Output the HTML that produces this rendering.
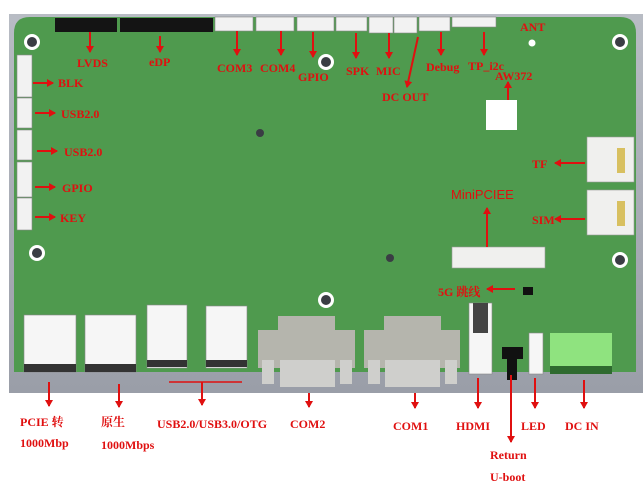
<!DOCTYPE html>
<html><head><meta charset="utf-8"><style>
html,body{margin:0;padding:0;background:#fff;width:644px;height:491px;overflow:hidden}
svg{display:block}
.t{font-family:"Liberation Serif","Noto Serif CJK SC",serif;font-weight:bold;fill:#e01010;font-size:12px}
</style></head><body>
<svg width="644" height="491" viewBox="0 0 644 491" xmlns="http://www.w3.org/2000/svg">
<defs>
<marker id="a" markerWidth="8" markerHeight="8" refX="6" refY="4" orient="auto" markerUnits="userSpaceOnUse"><path d="M0,0 L7,4 L0,8 z" fill="#e01010"/></marker>
<linearGradient id="gf" x1="0" y1="0" x2="0" y2="1"><stop offset="0" stop-color="#b8bcc4"/><stop offset="1" stop-color="#9a9ea8"/></linearGradient>
</defs>
<!-- frame -->
<rect x="9" y="14" width="634" height="379" fill="url(#gf)"/>
<path d="M30,17 H620 Q636,17 636,33 V372 H14 V33 Q14,17 30,17 Z" fill="#4f9a4e"/>
<!-- top headers -->
<rect x="55" y="18" width="62" height="14" fill="#141414"/>
<rect x="120" y="18" width="93" height="14" fill="#141414"/>
<g fill="#f2f2f2" stroke="#888" stroke-width="0.6">
<rect x="215" y="17" width="38" height="14"/><rect x="256" y="17" width="38" height="14"/>
<rect x="297" y="17" width="37" height="14"/><rect x="336" y="17" width="31" height="14"/>
<rect x="369" y="17" width="24" height="16"/><rect x="394" y="17" width="23" height="16"/>
<rect x="419" y="17" width="31" height="14"/><rect x="452" y="17" width="44" height="10"/>
<!-- left connectors -->
<rect x="17" y="55" width="15" height="42"/><rect x="17" y="98" width="15" height="30"/>
<rect x="17" y="130" width="15" height="30"/><rect x="17" y="162" width="15" height="35"/>
<rect x="17" y="198" width="15" height="32"/>
</g>
<!-- holes -->
<g fill="#fff"><circle cx="32" cy="42" r="8"/><circle cx="620" cy="42" r="8"/><circle cx="326" cy="62" r="8"/>
<circle cx="37" cy="253" r="8"/><circle cx="620" cy="260" r="8"/><circle cx="326" cy="300" r="8"/><circle cx="532" cy="43" r="3.5"/></g>
<g fill="#3a3d44"><circle cx="32" cy="42" r="5"/><circle cx="620" cy="42" r="5"/><circle cx="326" cy="62" r="5"/>
<circle cx="37" cy="253" r="5"/><circle cx="620" cy="260" r="5"/><circle cx="326" cy="300" r="5"/>
<circle cx="260" cy="133" r="4"/><circle cx="390" cy="258" r="4"/></g>
<!-- AW372 -->
<rect x="486" y="100" width="31" height="30" fill="#fff"/>
<!-- TF / SIM -->
<g fill="#f0f0ee" stroke="#999" stroke-width="0.6">
<rect x="587" y="137" width="47" height="45"/><rect x="587" y="190" width="47" height="45"/>
<rect x="452" y="247" width="93" height="21"/></g>
<rect x="617" y="148" width="8" height="25" fill="#d8c060"/><rect x="617" y="201" width="8" height="25" fill="#d8c060"/>
<rect x="523" y="287" width="10" height="8" fill="#111"/>
<!-- bottom connectors -->
<g fill="#f6f6f6" stroke="#888" stroke-width="0.6">
<rect x="24" y="315" width="52" height="57"/><rect x="85" y="315" width="51" height="57"/>
<rect x="147" y="305" width="40" height="63"/><rect x="206" y="306" width="41" height="62"/>
<rect x="469" y="303" width="23" height="71"/><rect x="529" y="333" width="14" height="41"/>
</g>
<rect x="24" y="364" width="52" height="8" fill="#333"/><rect x="85" y="364" width="51" height="8" fill="#333"/>
<rect x="147" y="360" width="40" height="7" fill="#333"/><rect x="206" y="360" width="41" height="7" fill="#333"/>
<rect x="473" y="303" width="15" height="30" fill="#444"/>
<g fill="#b5b5ad"><rect x="258" y="330" width="97" height="38"/><rect x="278" y="316" width="57" height="20"/>
<rect x="364" y="330" width="96" height="38"/><rect x="384" y="316" width="57" height="20"/></g>
<g fill="#cfcfcc"><rect x="262" y="360" width="12" height="24"/><rect x="340" y="360" width="12" height="24"/><rect x="280" y="360" width="55" height="27"/>
<rect x="368" y="360" width="12" height="24"/><rect x="445" y="360" width="12" height="24"/><rect x="385" y="360" width="55" height="27"/></g>
<rect x="502" y="347" width="21" height="12" fill="#111"/><rect x="507" y="359" width="10" height="21" fill="#111"/>
<rect x="550" y="333" width="62" height="39" fill="#8fe37f"/><rect x="550" y="366" width="62" height="8" fill="#2f6a2f"/>
<!-- arrows -->
<g stroke="#e01010" stroke-width="2" marker-end="url(#a)" fill="none">
<line x1="90" y1="32" x2="90" y2="52"/><line x1="160" y1="36" x2="160" y2="52"/>
<line x1="237" y1="31" x2="237" y2="55"/><line x1="281" y1="31" x2="281" y2="55"/>
<line x1="313" y1="32" x2="313" y2="57"/><line x1="356" y1="33" x2="356" y2="58"/>
<line x1="389" y1="33" x2="389" y2="58"/><line x1="418" y1="37" x2="407" y2="87"/>
<line x1="441" y1="32" x2="441" y2="55"/><line x1="484" y1="32" x2="484" y2="55"/>
<line x1="508" y1="100" x2="508" y2="82"/>
<line x1="33" y1="83" x2="53" y2="83"/><line x1="35" y1="113" x2="55" y2="113"/>
<line x1="37" y1="151" x2="57" y2="151"/><line x1="35" y1="187" x2="55" y2="187"/><line x1="35" y1="217" x2="55" y2="217"/>
<line x1="585" y1="163" x2="555" y2="163"/><line x1="585" y1="219" x2="555" y2="219"/>
<line x1="487" y1="247" x2="487" y2="208"/><line x1="515" y1="289" x2="487" y2="289"/>
<line x1="49" y1="382" x2="49" y2="406"/><line x1="119" y1="384" x2="119" y2="407"/>
<line x1="202" y1="382" x2="202" y2="405"/><line x1="309" y1="393" x2="309" y2="407"/>
<line x1="415" y1="393" x2="415" y2="408"/><line x1="478" y1="378" x2="478" y2="408"/>
<line x1="511" y1="375" x2="511" y2="442"/><line x1="535" y1="378" x2="535" y2="408"/>
<line x1="584" y1="380" x2="584" y2="408"/>
</g>
<line x1="169" y1="382" x2="242" y2="382" stroke="#e01010" stroke-width="1.5"/>
<!-- labels -->
<g class="t">
<text x="77" y="67">LVDS</text><text x="149" y="66">eDP</text>
<text x="217" y="72">COM3</text><text x="260" y="72">COM4</text><text x="298" y="81">GPIO</text>
<text x="346" y="75">SPK</text><text x="376" y="75">MIC</text><text x="382" y="101">DC OUT</text>
<text x="426" y="71">Debug</text><text x="468" y="70">TP_i2c</text><text x="495" y="80">AW372</text>
<text x="520" y="31">ANT</text>
<text x="58" y="87">BLK</text><text x="61" y="118">USB2.0</text><text x="64" y="156">USB2.0</text>
<text x="62" y="192">GPIO</text><text x="60" y="222">KEY</text>
<text x="532" y="168">TF</text><text x="532" y="224">SIM</text>
<text x="438" y="296">5G 跳线</text>
<text x="20" y="426">PCIE 转</text><text x="20" y="447">1000Mbp</text>
<text x="101" y="426">原生</text><text x="101" y="449">1000Mbps</text>
<text x="157" y="428">USB2.0/USB3.0/OTG</text><text x="290" y="428">COM2</text>
<text x="393" y="430">COM1</text><text x="456" y="430">HDMI</text><text x="521" y="430">LED</text>
<text x="565" y="430">DC IN</text><text x="490" y="459">Return</text><text x="490" y="481">U-boot</text>
</g>
<text x="451" y="199" font-family="Liberation Sans,sans-serif" font-size="13" fill="#e01010">MiniPCIEE</text>
</svg>
</body></html>
